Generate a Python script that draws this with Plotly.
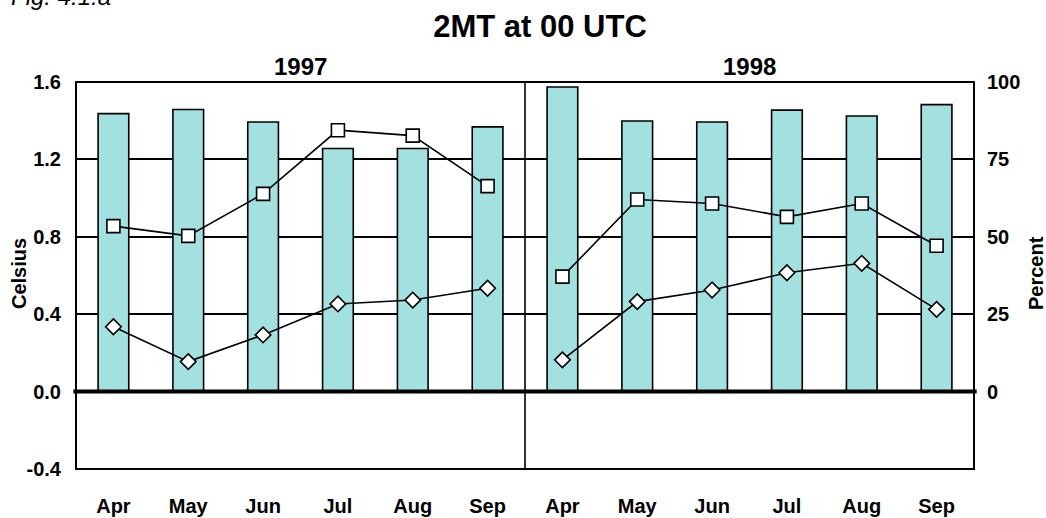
import plotly.graph_objects as go

months = ["Apr", "May", "Jun", "Jul", "Aug", "Sep"]
years = ["1997", "1998"]
categories = months + months

# Bars: percent (right axis)
bar_pct = [89.8, 91.1, 87.1, 78.5, 78.5, 85.5,
           98.4, 87.4, 87.1, 90.9, 89.0, 92.7]
# Lines: Celsius (left axis)
square_c_1997 = [0.855, 0.805, 1.022, 1.351, 1.323, 1.062]
square_c_1998 = [0.594, 0.993, 0.972, 0.903, 0.972, 0.754]
diamond_c_1997 = [0.335, 0.155, 0.293, 0.453, 0.473, 0.534]
diamond_c_1998 = [0.164, 0.465, 0.525, 0.614, 0.663, 0.425]

celsius_ticks = [-0.4, 0.0, 0.4, 0.8, 1.2, 1.6]
celsius_ticktext = ["-0.4", "0.0", "0.4", "0.8", "1.2", "1.6"]
percent_ticks = [0, 25, 50, 75, 100]

FONT = "Liberation Sans"
BAR_COLOR = "#a3e0e0"

xpos = list(range(len(categories)))
x97 = xpos[:6]
x98 = xpos[6:]

fig = go.Figure()

fig.add_trace(go.Bar(
    x=xpos, y=bar_pct, yaxis="y", width=0.41,
    marker=dict(color=BAR_COLOR, line=dict(color="black", width=1.6)),
    showlegend=False, hoverinfo="y"))

for xs, ys in [(x97, square_c_1997), (x98, square_c_1998)]:
    fig.add_trace(go.Scatter(
        x=xs, y=ys, yaxis="y2", mode="lines+markers",
        line=dict(color="black", width=1.6),
        marker=dict(symbol="square", size=13, color="white",
                    line=dict(color="black", width=1.6)),
        showlegend=False))

for xs, ys in [(x97, diamond_c_1997), (x98, diamond_c_1998)]:
    fig.add_trace(go.Scatter(
        x=xs, y=ys, yaxis="y2", mode="lines+markers",
        line=dict(color="black", width=1.6),
        marker=dict(symbol="diamond", size=12, color="white",
                    line=dict(color="black", width=1.6)),
        showlegend=False))

tickfont = dict(family=FONT, size=20, color="black", weight="bold")

fig.update_layout(
    width=1046, height=518,
    margin=dict(l=76, r=72, t=82, b=49, autoexpand=False),
    paper_bgcolor="white", plot_bgcolor="white",
    font=dict(family=FONT, color="black"),
    title=dict(text="2MT at 00 UTC", x=540 / 1046, xref="container", xanchor="center",
               y=1 - 26 / 518, yref="container", yanchor="middle",
               font=dict(family=FONT, size=31, color="black", weight="bold")),
    xaxis=dict(range=[-0.5, 11.5], tickvals=xpos, ticktext=categories,
               showgrid=False, zeroline=False, showline=False, ticks="",
               tickfont=tickfont, ticklabelstandoff=23, automargin=False),
    yaxis=dict(range=[-25, 100], tickvals=percent_ticks, side="right",
               showgrid=True, gridcolor="black", gridwidth=1.6,
               zeroline=False, showline=False, ticks="",
               tickfont=tickfont, ticklabelstandoff=12, automargin=False),
    yaxis2=dict(range=[-0.4, 1.6], tickvals=celsius_ticks, ticktext=celsius_ticktext,
                overlaying="y", side="left", showgrid=False, zeroline=False,
                showline=False, ticks="", tickfont=tickfont, ticklabelstandoff=14,
                automargin=False),
    bargap=0.59,
)

# zero line (thick)
fig.add_shape(type="line", xref="paper", yref="y2", x0=-0.003, x1=1.003, y0=0, y1=0,
              line=dict(color="black", width=4), layer="above")
# panel divider
fig.add_shape(type="line", xref="x", yref="paper", x0=5.5, x1=5.5, y0=0, y1=1,
              line=dict(color="black", width=1.6), layer="above")
# plot border
fig.add_shape(type="rect", xref="paper", yref="paper", x0=0, x1=1, y0=0, y1=1,
              line=dict(color="black", width=2), layer="above")

for i, yr in enumerate(years):
    fig.add_annotation(text=yr, xref="paper", yref="paper", x=0.25 + 0.5 * i, y=1,
                       xanchor="center", yanchor="bottom", showarrow=False,
                       font=dict(family=FONT, size=24, color="black", weight="bold"))

fig.add_annotation(text="Celsius", textangle=-90, xref="paper", yref="paper",
                   x=(19 - 76) / 898, y=(469 - 274) / 387, xanchor="center",
                   yanchor="middle", showarrow=False,
                   font=dict(family=FONT, size=20, color="black", weight="bold"))
fig.add_annotation(text="Percent", textangle=-90, xref="paper", yref="paper",
                   x=(1036 - 76) / 898, y=(469 - 273) / 387, xanchor="center",
                   yanchor="middle", showarrow=False,
                   font=dict(family=FONT, size=20, color="black", weight="bold"))
fig.add_annotation(text="<i>Fig. 4.1.a</i>", xref="paper", yref="paper",
                   x=(113 - 76) / 898, y=(469 - 12) / 387, xanchor="right",
                   yanchor="bottom", showarrow=False,
                   font=dict(family=FONT, size=24, color="black"))

fig.write_html("out.html", config={"displayModeBar": False},
               post_script="document.body.style.margin='0px';")
